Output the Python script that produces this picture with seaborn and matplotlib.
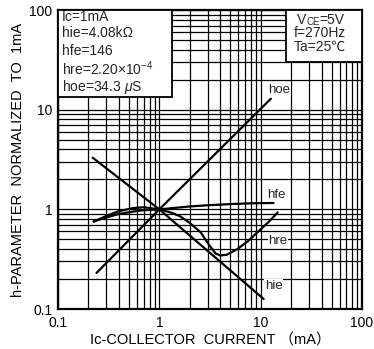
import matplotlib
matplotlib.use("Agg")
import matplotlib.pyplot as plt
import seaborn as sns
from matplotlib.patches import Rectangle
from matplotlib.ticker import FixedLocator, NullFormatter

sns.set_theme(style="white")
plt.rcParams['font.family'] = ['Liberation Sans', 'Noto Sans CJK JP', 'DejaVu Sans']
plt.rcParams['mathtext.fontset'] = 'custom'
plt.rcParams['mathtext.rm'] = 'Liberation Sans'
plt.rcParams['mathtext.it'] = 'Liberation Sans:italic'
plt.rcParams['mathtext.bf'] = 'Liberation Sans:bold'

# h-parameters normalized to their value at Ic = 1 mA
ic_hoe = [0.24, 1.0, 12.6]
hoe = [0.23, 1.0, 12.9]

ic_hie = [0.22, 1.0, 10.7]
hie = [3.3, 1.0, 0.126]

ic_hfe = [0.225, 0.3, 0.4, 0.55, 0.7, 1.0, 2.0, 3.0, 5.0, 8.0, 13.4]
hfe = [0.76, 0.83, 0.90, 0.95, 0.98, 1.0, 1.07, 1.10, 1.13, 1.15, 1.16]

ic_hre = [0.225, 0.3, 0.4, 0.55, 0.7, 1.0, 1.3, 1.61, 2.0, 2.55, 3.2, 3.6,
          4.0, 4.6, 5.9, 7.5, 9.3, 12.0, 14.7]
hre = [0.75, 0.86, 0.96, 1.03, 1.05, 1.0, 0.93, 0.85, 0.73, 0.59, 0.42,
       0.36, 0.345, 0.35, 0.40, 0.48, 0.59, 0.75, 0.93]

x_ticks = [0.1, 1, 10, 100]
x_tick_labels = ["0.1", "1", "10", "100"]
y_ticks = [0.1, 1, 10, 100]
y_tick_labels = ["0.1", "1", "10", "100"]

curve_labels = ["hoe", "hfe", "hre", "hie"]
label_x = [15.1, 14.4, 14.8, 13.4]
label_y = [15.8, 1.41, 0.48, 0.17]

cond_left = ["Ic=1mA", "hie=4.08kΩ", "hfe=146",
             r"hre=2.20$\times$10$^{-4}$", r"hoe=34.3 $\mu$S"]
cond_right = ["f=270Hz", "Ta=25℃"]

fig = plt.figure(figsize=(3.74, 3.49), dpi=100)
ax = fig.add_axes([0.155, 0.1146, 0.813, 0.8564])

for xs, ys in [(ic_hoe, hoe), (ic_hie, hie), (ic_hfe, hfe), (ic_hre, hre)]:
    sns.lineplot(x=xs, y=ys, ax=ax, color="black", linewidth=1.6,
                 sort=False, estimator=None, zorder=4)

ax.set_xscale("log")
ax.set_yscale("log")
ax.set_xlim(0.1, 100)
ax.set_ylim(0.1, 100)

minor = [m * 10.0 ** e for e in (-1, 0, 1) for m in range(2, 10)]
ax.xaxis.set_major_locator(FixedLocator(x_ticks))
ax.yaxis.set_major_locator(FixedLocator(y_ticks))
ax.xaxis.set_minor_locator(FixedLocator(minor))
ax.yaxis.set_minor_locator(FixedLocator(minor))
ax.xaxis.set_minor_formatter(NullFormatter())
ax.yaxis.set_minor_formatter(NullFormatter())
ax.set_xticklabels(x_tick_labels)
ax.set_yticklabels(y_tick_labels)
ax.tick_params(which="both", length=0, labelsize=10, colors="black")
ax.tick_params(axis="x", pad=5)
ax.tick_params(axis="y", pad=4)

ax.grid(which="both", color="black", linewidth=0.9)
ax.set_axisbelow(True)
for sp in ax.spines.values():
    sp.set_color("black")
    sp.set_linewidth(1.6)

ax.set_xlabel("Ic-COLLECTOR  CURRENT （mA）", fontsize=10.5, color="black", labelpad=2)
ax.set_ylabel("h-PARAMETER  NORMALIZED  TO  1mA", fontsize=10.5, color="black")
ax.yaxis.set_label_coords(-0.108, 0.5)

for name, lx, ly in zip(curve_labels, label_x, label_y):
    ax.text(lx, ly, name, fontsize=9.5, ha="center", va="center", zorder=5,
            bbox=dict(facecolor="white", edgecolor="none", pad=0.6))

# condition boxes
ax.add_patch(Rectangle((0, 0.709), 0.375, 0.291, transform=ax.transAxes,
                       facecolor="white", edgecolor="black", linewidth=1.3,
                       zorder=6, clip_on=False))
ax.add_patch(Rectangle((0.75, 0.826), 0.25, 0.174, transform=ax.transAxes,
                       facecolor="white", edgecolor="black", linewidth=1.3,
                       zorder=6, clip_on=False))
for txt, yy in zip(cond_left, [0.977, 0.922, 0.862, 0.804, 0.744]):
    ax.text(0.013, yy, txt, transform=ax.transAxes, fontsize=10,
            ha="left", va="center", zorder=7)

# VCE with small-cap style subscript kept on the baseline
t_v = ax.text(0.785, 0.952, "V", transform=ax.transAxes, fontsize=10,
              ha="left", va="baseline", zorder=7)
t_ce = ax.annotate("CE", xy=(1, 0), xycoords=t_v, xytext=(0.3, 0),
                   textcoords="offset points", fontsize=7,
                   ha="left", va="bottom", zorder=7)
ax.annotate("=5V", xy=(1, 0), xycoords=(t_ce, t_v), fontsize=10,
            ha="left", va="bottom", zorder=7)
for txt, yy in zip(cond_right, [0.922, 0.876]):
    ax.text(0.862, yy, txt, transform=ax.transAxes, fontsize=10,
            ha="center", va="center", zorder=7)

fig.savefig("out.png", dpi=100)
